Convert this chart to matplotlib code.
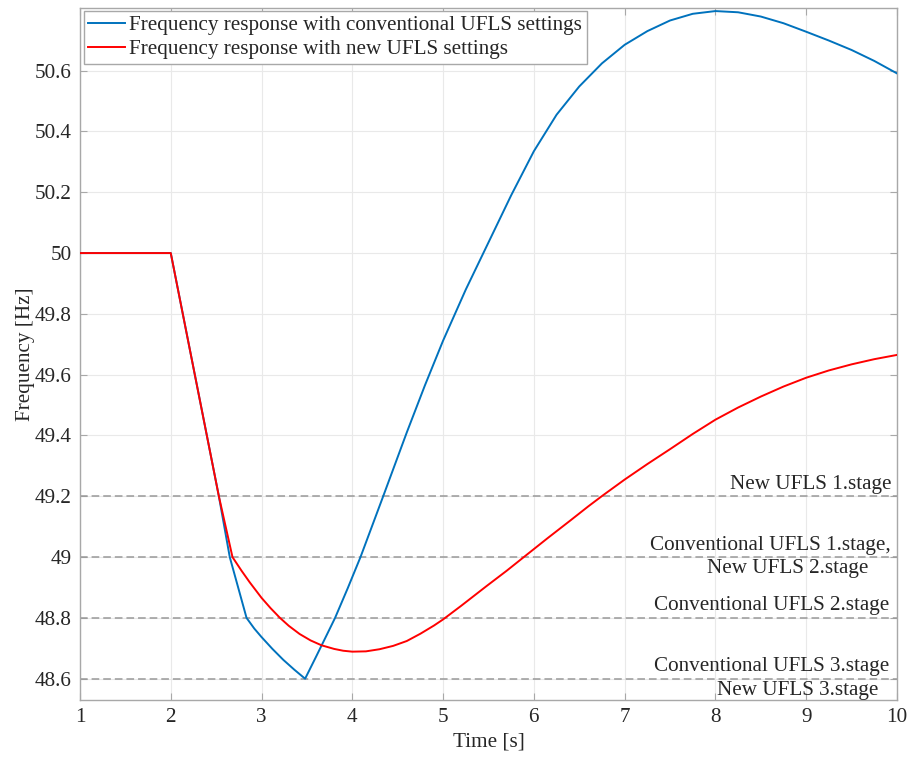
import matplotlib
matplotlib.use("Agg")
import matplotlib.pyplot as plt
from matplotlib.ticker import FuncFormatter

plt.rcParams['font.family'] = ['Liberation Serif', 'DejaVu Serif']

# ---- data ----
t_conv = [1.0, 2.0, 2.53, 2.65, 2.835, 2.92, 3.0, 3.12, 3.24, 3.36, 3.48,
          3.6, 3.72, 3.81, 3.95, 4.09, 4.34, 4.6, 4.8, 5.0,
          5.25, 5.5, 5.75, 6.0, 6.25, 6.5, 6.75, 7.0, 7.25, 7.5, 7.75,
          8.0, 8.25, 8.5, 8.75, 9.0, 9.25, 9.5, 9.75, 10.0]
f_conv = [50.0, 50.0, 49.2, 49.0, 48.80, 48.765, 48.737, 48.698, 48.662, 48.630, 48.600,
          48.672, 48.745, 48.80, 48.898, 49.0, 49.2, 49.41, 49.565, 49.712,
          49.88, 50.035, 50.19, 50.335, 50.455, 50.548, 50.624, 50.685, 50.73, 50.765, 50.787,
          50.796, 50.792, 50.778, 50.756, 50.728, 50.699, 50.668, 50.632, 50.591]

t_new = [1.0, 2.0, 2.53, 2.68, 2.78, 2.87, 3.0, 3.1, 3.2, 3.3, 3.42, 3.54, 3.66,
         3.8, 3.9, 4.0, 4.15, 4.3, 4.45, 4.6, 4.75, 4.9, 5.0, 5.2, 5.48, 5.7,
         5.91, 6.15, 6.4, 6.6, 6.76, 7.0, 7.25, 7.5, 7.75, 8.0, 8.25, 8.5, 8.75,
         9.0, 9.25, 9.5, 9.75, 10.0]
f_new = [50.0, 50.0, 49.2, 49.0, 48.955, 48.917, 48.866, 48.832, 48.801, 48.774, 48.747, 48.726, 48.710,
         48.698, 48.692, 48.689, 48.690, 48.697, 48.708, 48.724, 48.748, 48.775, 48.795, 48.84, 48.905, 48.955,
         49.005, 49.062, 49.12, 49.167, 49.203, 49.255, 49.306, 49.355, 49.405, 49.452, 49.492, 49.528, 49.561,
         49.59, 49.614, 49.634, 49.651, 49.665]

labels = ['Frequency response with conventional UFLS settings',
          'Frequency response with new UFLS settings']

threshold_levels = [49.2, 49.0, 48.8, 48.6]
x_ticks = [1, 2, 3, 4, 5, 6, 7, 8, 9, 10]
y_ticks = [48.6, 48.8, 49.0, 49.2, 49.4, 49.6, 49.8, 50.0, 50.2, 50.4, 50.6]

fig = plt.figure(figsize=(9.11, 7.57), dpi=100)
ax = fig.add_axes([0.0878, 0.0753, 0.8968, 0.9141])

blue = '#0072BD'
red = '#FF0000'
fs = 15.2
tc = '#262626'

for lv in threshold_levels:
    ax.axhline(lv, color='#999999', lw=1.1, dashes=(5, 2.6), zorder=2)

ax.plot(t_conv, f_conv, color=blue, lw=1.4, label=labels[0], zorder=3)
ax.plot(t_new, f_new, color=red, lw=1.4, label=labels[1], zorder=4)

ax.set_xlim(1, 10)
ax.set_ylim(48.53, 50.806)
ax.set_xticks(x_ticks)
ax.set_yticks(y_ticks)
ax.yaxis.set_major_formatter(FuncFormatter(lambda v, p: '%g' % round(v, 2)))
ax.grid(True, color='#e9e9e9', lw=0.8, zorder=0)
ax.set_axisbelow(True)

for s in ax.spines.values():
    s.set_color('#a8a8a8')
    s.set_linewidth(1.0)
ax.tick_params(direction='in', length=5, width=0.8, color='#a8a8a8',
               labelsize=fs, labelcolor=tc, top=True, right=True, pad=6)

ax.set_xlabel('Time [s]', fontsize=fs, color=tc, labelpad=4)
ax.set_ylabel('Frequency [Hz]', fontsize=fs, color=tc, labelpad=0)

ax.text(9.94, 49.2 + 0.008, 'New UFLS 1.stage', ha='right', va='bottom', fontsize=fs, color=tc)
ax.text(9.93, 49.0 + 0.008, 'Conventional UFLS 1.stage,', ha='right', va='bottom', fontsize=fs, color=tc)
ax.text(9.69, 49.0 - 0.006, 'New UFLS 2.stage', ha='right', va='top', fontsize=fs, color=tc)
ax.text(9.91, 48.8 + 0.008, 'Conventional UFLS 2.stage', ha='right', va='bottom', fontsize=fs, color=tc)
ax.text(9.91, 48.6 + 0.008, 'Conventional UFLS 3.stage', ha='right', va='bottom', fontsize=fs, color=tc)
ax.text(9.79, 48.6 - 0.006, 'New UFLS 3.stage', ha='right', va='top', fontsize=fs, color=tc)

leg = ax.legend(loc='upper left', bbox_to_anchor=(0.005, 0.995), fontsize=fs,
                frameon=True, fancybox=False, framealpha=1, edgecolor='#a8a8a8',
                handlelength=1.75, handletextpad=0.2, borderpad=0.2, labelspacing=0.2,
                borderaxespad=0.0)
leg.get_frame().set_linewidth(1.0)
for txt in leg.get_texts():
    txt.set_color(tc)

fig.savefig('out.png', dpi=100)
